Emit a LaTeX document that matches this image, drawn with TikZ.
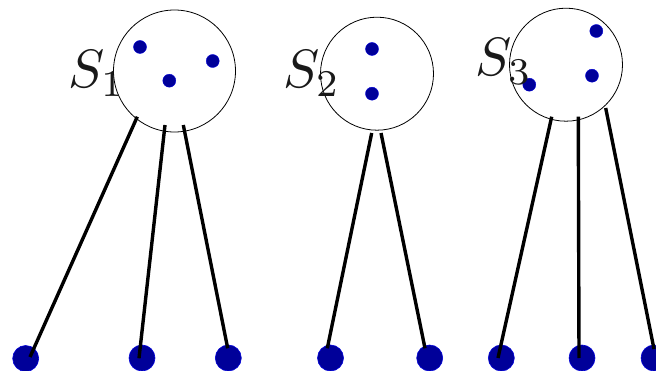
\documentclass[tikz,border=0pt]{standalone}
\usetikzlibrary{calc}
\begin{document}
\begin{tikzpicture}[x=1pt,y=-1pt,
  setcircle/.style={circle,draw,line width=0.8pt,inner sep=0pt,minimum size=#1},
  elem/.style={circle,fill=blue!60!black,draw=blue!85!black,line width=0.4pt,inner sep=0pt,minimum size=13pt},
  leaf/.style={circle,fill=blue!60!black,draw=blue!85!black,line width=0.6pt,inner sep=0pt,minimum size=26pt},
  wire/.style={line width=3.4pt},
  setlabel/.style={anchor=base west,inner sep=0pt,text=black!90,scale=5.4}]
  \useasboundingbox (0,0) rectangle (656,371);
  \clip (0,0) rectangle (656,371);

  % the three sets
  \node[setcircle=122pt] (c1) at (174.5,71) {};
  \node[setcircle=113pt] (c2) at (377,73.7) {};
  \node[setcircle=113pt] (c3) at (566,64.7) {};

  % their elements
  \node[elem] (e11) at (140,47) {};
  \node[elem] (e12) at (212.7,61) {};
  \node[elem] (e13) at (169.3,80.7) {};
  \node[elem] (e21) at (372,49) {};
  \node[elem] (e22) at (372,93.7) {};
  \node[elem] (e31) at (596.3,31) {};
  \node[elem] (e32) at (592,75.7) {};
  \node[elem] (e33) at (529.3,84.7) {};

  % set names
  \node[setlabel] (l1) at (67,88) {$S_1$};
  \node[setlabel] (l2) at (282,88) {$S_2$};
  \node[setlabel] (l3) at (474,76) {$S_3$};

  % leaves
  \node[leaf] (b1) at (25.7,358.5) {};
  \node[leaf] (b2) at (142,358) {};
  \node[leaf] (b3) at (228.3,358) {};
  \node[leaf] (b4) at (330.5,358) {};
  \node[leaf] (b5) at (429.7,358) {};
  \node[leaf] (b6) at (501.3,358) {};
  \node[leaf] (b7) at (582,358) {};
  \node[leaf] (b8) at (654,358) {};

  % where the wires leave the sets
  \coordinate (t1) at (137.3,116.7);
  \coordinate (t2) at (165,125);
  \coordinate (t3) at (183.3,125);
  \coordinate (t4) at (371.7,133);
  \coordinate (t5) at (381,133);
  \coordinate (t6) at (551.7,116.7);
  \coordinate (t7) at (578.3,116.7);
  \coordinate (t8) at (605.7,108);

  % wires from sets to leaves
  \draw[wire] (t1) -- ($(b1)+(4.3,-1.5)$);
  \draw[wire] (t2) -- ($(b2)+(-3,0.3)$);
  \draw[wire] (t3) -- ($(b3)+(-0.6,-9.7)$);
  \draw[wire] (t4) -- ($(b4)+(-3.2,-9.7)$);
  \draw[wire] (t5) -- ($(b5)+(-4.7,-9.7)$);
  \draw[wire] (t6) -- ($(b6)+(-3.3,0)$);
  \draw[wire] (t7) -- ($(b7)+(-3,0)$);
  \draw[wire] (t8) -- ($(b8)+(0,-9)$);
\end{tikzpicture}
\end{document}
